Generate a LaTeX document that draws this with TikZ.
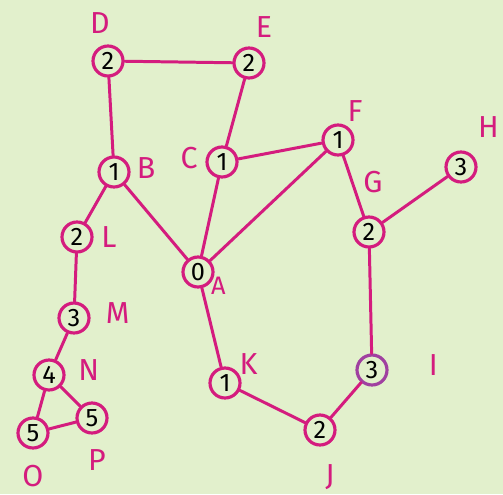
\documentclass[tikz,border=0pt]{standalone}
\usepackage{fontspec}
\setmainfont{Fira Sans}
\usepackage{xcolor}
\usepackage{tikz}
\usetikzlibrary{positioning}
\definecolor{gbg}{RGB}{226,240,204}
\definecolor{gpink}{RGB}{212,28,126}
\definecolor{gpurple}{RGB}{160,64,160}
\tikzset{
  vtx/.style={circle, draw=gpink, line width=1.8pt, minimum size=0.6cm, inner sep=0pt, font=\Large, text=black},
  lbl/.style={text=gpink, font=\LARGE, inner sep=0pt},
  edge/.style={gpink, line width=1.7pt, line cap=round},
}

\begin{document}
\begin{tikzpicture}[x=0.02cm, y=-0.02cm]
  \fill[gbg] (0,0) rectangle (503,494);
  \useasboundingbox (0,0) rectangle (503,494);
  % vertices (distance from A)
  \node[vtx] (a) at (198,272) {0};
  \node[vtx] (b) at (114,172) {1};
  \node[vtx] (c) at (222,162) {1};
  \node[vtx] (d) at (108,61) {2};
  \node[vtx] (e) at (249,63) {2};
  \node[vtx] (f) at (338,140) {1};
  \node[vtx] (g) at (369,232) {2};
  \node[vtx] (h) at (461,167) {3};
  \node[vtx, draw=gpurple] (i) at (372,370) {3};
  \node[vtx] (j) at (320,430) {2};
  \node[vtx] (k) at (225,383) {1};
  \node[vtx] (l) at (77,237) {2};
  \node[vtx] (m) at (74,318) {3};
  \node[vtx] (n) at (49,375) {4};
  \node[vtx] (o) at (33,433) {5};
  \node[vtx] (p) at (92,418) {5};
  % letters
  \node[lbl, above=0.22cm of d, xshift=-0.16cm] (ld) {D};
  \node[lbl, above=0.18cm of e, xshift=0.3cm] (le) {E};
  \node[lbl, right=0.12cm of b, yshift=0.08cm] (lb) {B};
  \node[lbl, left=0.15cm of c, yshift=0.08cm] (lc) {C};
  \node[lbl, above right=0.12cm and -0.05cm of f] (lf) {F};
  \node[lbl, above right=0.35cm and 0.1cm of h] (lh) {H};
  \node[lbl, above=0.45cm of g, xshift=0.08cm] (lg) {G};
  \node[lbl, right=0.15cm of l] (ll) {L};
  \node[lbl, below right=-0.15cm and 0.02cm of a, font=\Large] (la) {A};
  \node[lbl, right=0.3cm of m, yshift=0.1cm] (lm) {M};
  \node[lbl, right=0.25cm of n, yshift=0.1cm] (ln) {N};
  \node[lbl, above right=-0.08cm and 0.05cm of k] (lk) {K};
  \node[lbl, right=0.8cm of i, yshift=0.1cm] (li) {I};
  \node[lbl, below=0.35cm of j, xshift=0.2cm] (lj) {J};
  \node[lbl, below=0.3cm of o] (lo) {O};
  \node[lbl, below=0.3cm of p, xshift=0.1cm] (lp) {P};
  % edges
  \draw[edge] (d) -- (e);
  \draw[edge] (d) -- (b);
  \draw[edge] (e) -- (c);
  \draw[edge] (b) -- (l);
  \draw[edge] (b) -- (a);
  \draw[edge] (c) -- (f);
  \draw[edge] (c) -- (a);
  \draw[edge] (f) -- (a);
  \draw[edge] (f) -- (g);
  \draw[edge] (g) -- (h);
  \draw[edge] (g) -- (i);
  \draw[edge] (a) -- (k);
  \draw[edge] (k) -- (j);
  \draw[edge] (j) -- (i);
  \draw[edge] (l) -- (m);
  \draw[edge] (m) -- (n);
  \draw[edge] (n) -- (o);
  \draw[edge] (n) -- (p);
  \draw[edge] (o) -- (p);
\end{tikzpicture}
\end{document}
